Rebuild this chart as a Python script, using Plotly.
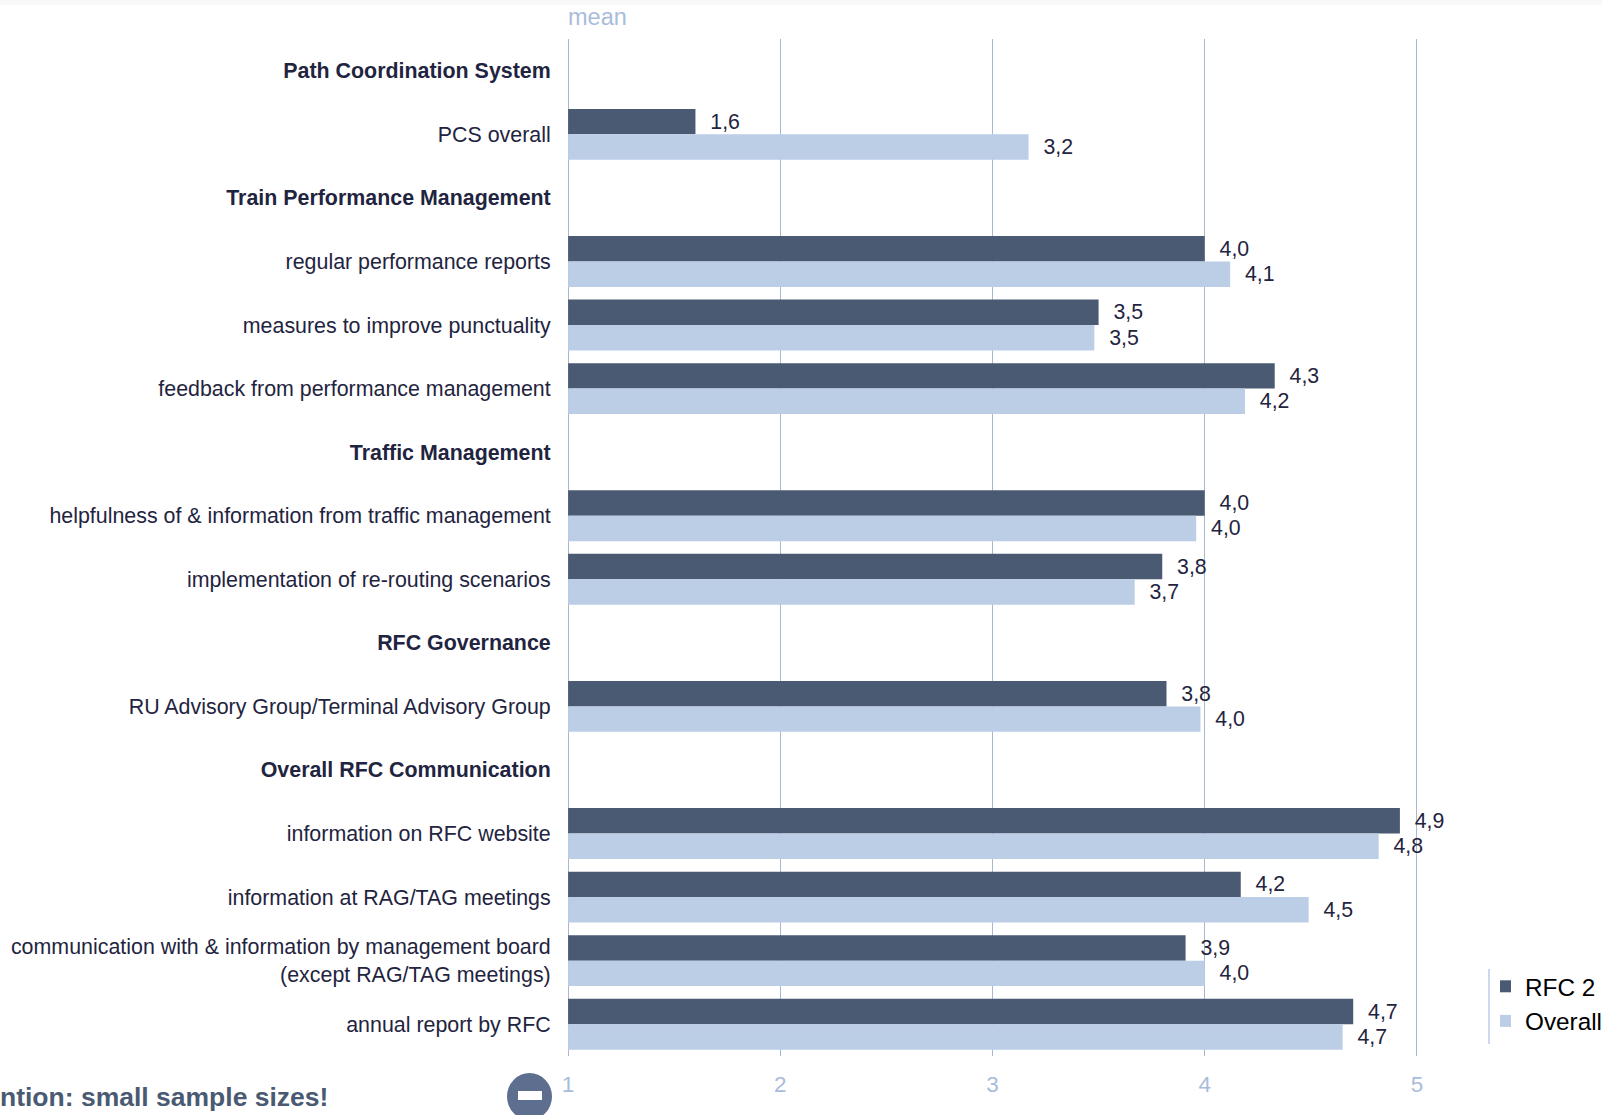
import plotly.graph_objects as go

W, H = 1602, 1115
M_L, M_R, M_T, M_B = 566, 183, 39, 59
FONT = "Liberation Sans, Arial, sans-serif"
DARK = "#4a5a73"
LIGHT = "#bccde6"
GRID = "#a9b8d0"
INK = "#1f2440"
TICK = "#a9bcdc"

categories = [
    "<b>Path Coordination System</b>",
    "PCS overall",
    "<b>Train Performance Management</b>",
    "regular performance reports",
    "measures to improve punctuality",
    "feedback from performance management",
    "<b>Traffic Management</b>",
    "helpfulness of &amp; information from traffic management",
    "implementation of re-routing scenarios",
    "<b>RFC Governance</b>",
    "RU Advisory Group/Terminal Advisory Group",
    "<b>Overall RFC Communication</b>",
    "information on RFC website",
    "information at RAG/TAG meetings",
    "communication with &amp; information by management board<br>(except RAG/TAG meetings)",
    "annual report by RFC",
]
rfc2_values = [None, 1.60, None, 4.00, 3.50, 4.33, None, 4.00, 3.80, None, 3.82, None, 4.92, 4.17, 3.91, 4.70]
overall_values = [None, 3.17, None, 4.12, 3.48, 4.19, None, 3.96, 3.67, None, 3.98, None, 4.82, 4.49, 4.00, 4.65]
rfc2_labels = ["", "1,6", "", "4,0", "3,5", "4,3", "", "4,0", "3,8", "", "3,8", "", "4,9", "4,2", "3,9", "4,7"]
overall_labels = ["", "3,2", "", "4,1", "3,5", "4,2", "", "4,0", "3,7", "", "4,0", "", "4,8", "4,5", "4,0", "4,7"]
x_ticks = [1, 2, 3, 4, 5]

PAD = "\u00a0\u00a0"


def px(x):
    """Page pixel column to paper coordinate (paper spans the plot area)."""
    return (x - M_L) / (W - M_L - M_R)


def py(y):
    """Page pixel row to paper coordinate."""
    return 1 - (y - M_T) / (H - M_T - M_B)


def bar(name, values, labels, color):
    return go.Bar(
        name=name,
        legendgroup=name,
        y=categories,
        x=[None if v is None else v - 1 for v in values],
        base=1,
        orientation="h",
        marker=dict(color=color, line=dict(width=0)),
        text=[PAD + t if t else "" for t in labels],
        textposition="outside",
        constraintext="none",
        cliponaxis=False,
        textfont=dict(family=FONT, size=21.3, color=INK),
        hoverinfo="skip",
    )


fig = go.Figure([
    bar("RFC 2", rfc2_values, rfc2_labels, DARK),
    bar("Overall", overall_values, overall_labels, LIGHT),
])

fig.update_layout(
    width=W,
    height=H,
    margin=dict(l=M_L, r=M_R, t=M_T, b=M_B, autoexpand=False),
    paper_bgcolor="white",
    plot_bgcolor="white",
    barmode="group",
    bargap=0.2,
    bargroupgap=0,
    font=dict(family=FONT, color=INK),
    xaxis=dict(
        range=[0.99, 5.01],
        tickvals=x_ticks,
        showgrid=True,
        gridcolor=GRID,
        gridwidth=1,
        zeroline=False,
        showline=False,
        ticks="outside",
        ticklen=8,
        tickcolor="rgba(0,0,0,0)",
        tickfont=dict(family=FONT, size=22.5, color=TICK),
    ),
    yaxis=dict(
        autorange=False,
        range=[15.5, -0.5],
        showgrid=False,
        zeroline=False,
        showline=False,
        ticks="outside",
        ticklen=10,
        tickcolor="rgba(0,0,0,0)",
        tickfont=dict(family=FONT, size=21.4, color=INK),
        automargin=False,
    ),
    legend=dict(
        x=px(1500),
        xanchor="left",
        y=py(964),
        yanchor="top",
        font=dict(family=FONT, size=24.3, color="#000000"),
        indentation=-15,
        tracegroupgap=13,
        traceorder="normal",
        bgcolor="rgba(0,0,0,0)",
    ),
    shapes=[
        dict(type="rect", xref="paper", yref="paper", x0=px(0), x1=px(W), y0=py(5), y1=py(0),
             fillcolor="#f8f8f8", line=dict(width=0), layer="below"),
        dict(type="line", xref="paper", yref="paper", x0=px(1489), x1=px(1489),
             y0=py(969), y1=py(1044), line=dict(color=LIGHT, width=1.5)),
        dict(type="circle", xref="paper", yref="paper", x0=px(507), x1=px(552),
             y0=py(1073), y1=py(1120), fillcolor="#5d6e8e", line=dict(width=0)),
        dict(type="rect", xref="paper", yref="paper", x0=px(518), x1=px(542),
             y0=py(1091), y1=py(1100), fillcolor="white", line=dict(width=0)),
    ],
    annotations=[
        dict(text="mean", xref="paper", yref="paper", x=px(568), y=py(17),
             xanchor="left", yanchor="middle", showarrow=False, xshift=-2,
             font=dict(family=FONT, size=23.5, color=TICK)),
        dict(text="<b>ntion: small sample sizes!</b>", xref="paper", yref="paper",
             x=px(0), y=py(1097), xanchor="left", yanchor="middle", showarrow=False,
             xshift=-2, font=dict(family=FONT, size=26.5, color=DARK)),
    ],
)

fig.write_html(
    "out.html",
    config=dict(displayModeBar=False),
    post_script="document.body.style.margin='0';document.body.style.overflow='hidden';",
)
